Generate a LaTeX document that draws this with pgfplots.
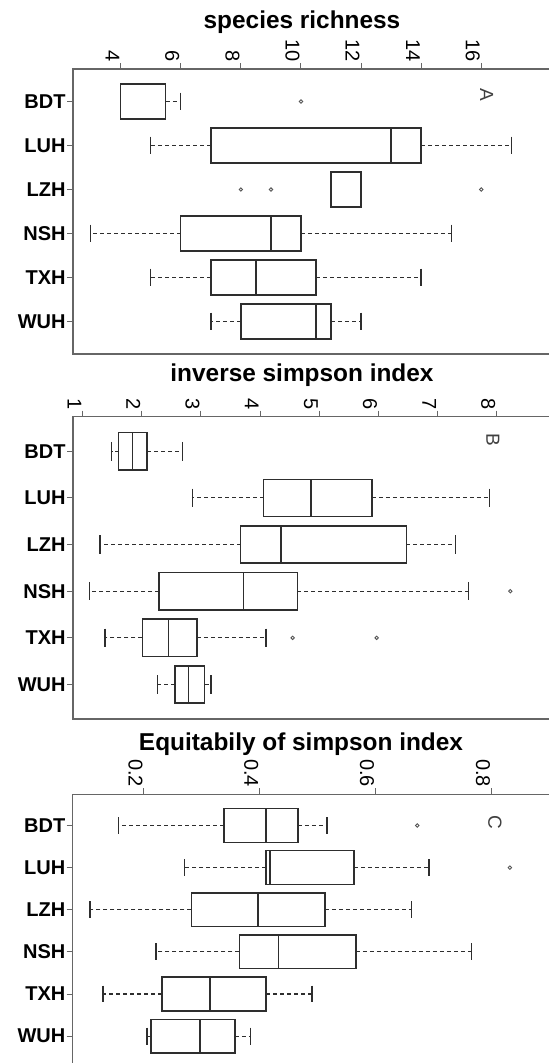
\documentclass[border=0pt]{standalone}
\usepackage{fontspec}
\setmainfont{Liberation Sans}
\usepackage{pgfplots}
\usepgfplotslibrary{statistics}
\usepackage{pgfplotstable}
\pgfplotsset{compat=1.18}
\newdimen\px \px=0.5pt
\definecolor{boxcol}{HTML}{2E2E2E}
\definecolor{axcol}{HTML}{666666}
\definecolor{outcol}{HTML}{555555}

\pgfplotstableread{
pos lw lq med uq uw
1 4 4 4 5.5 6
2 5 7 13 14 17
3 11 11 11 12 12
4 3 6 9 10 15
5 5 7 8.5 10.5 14
6 7 8 10.5 11 12
}\tblA
\pgfplotstableread{
pos lw lq med uq uw
1 1.49 1.61 1.84 2.09 2.69
2 2.86 4.06 4.86 5.89 7.88
3 1.29 3.67 4.35 6.47 7.30
4 1.12 2.29 3.72 4.63 7.52
5 1.38 2.01 2.45 2.93 4.10
6 2.26 2.56 2.79 3.06 3.17
}\tblB
\pgfplotstableread{
pos lw lq med uq uw
1 0.156 0.338 0.411 0.466 0.516
2 0.270 0.411 0.418 0.563 0.692
3 0.107 0.282 0.397 0.513 0.662
4 0.221 0.365 0.432 0.566 0.766
5 0.129 0.231 0.314 0.411 0.490
6 0.205 0.212 0.297 0.357 0.384
}\tblC

\pgfplotsset{
 bxaxis/.style={
  scale only axis, width=487\px,
  ymin=0.26, ymax=6.74, y dir=reverse,
  ytick={1,...,6}, yticklabels={BDT,LUH,LZH,NSH,TXH,WUH},
  yticklabel style={font=\fontsize{10}{12}\selectfont\bfseries, anchor=east, inner sep=1\px},
  ytick pos=left, xtick pos=right, xticklabel pos=right,
  tick align=outside, major tick length=6\px,
  tick style={axcol, line width=1\px},
  axis line style={axcol, line width=1.3\px},
  xticklabel style={font=\fontsize{10}{12}\selectfont, rotate=-90, anchor=north east, inner sep=1\px},
  /pgf/number format/assume math mode=true,
  boxplot/draw direction=x,
  boxplot/box extend=0.8,
  boxplot/whisker extend=0,
  boxplot/every whisker/.style={dash pattern=on 4\px off 3\px, line width=1.1\px},
  clip=false,
 },
 bxplot/.style={draw=boxcol, line width=1.4\px, solid},
 capA/.style={only marks, mark=|, mark size=8.8\px, mark options={boxcol, line width=1.4\px, solid}},
 outl/.style={only marks, mark=o, mark size=1.7\px, mark options={outcol, line width=0.9\px}},
}
\newcommand\bx[3]{%
 \pgfplotstablegetelem{#2}{lw}\of{#1}\edef\vlw{\pgfplotsretval}%
 \pgfplotstablegetelem{#2}{lq}\of{#1}\edef\vlq{\pgfplotsretval}%
 \pgfplotstablegetelem{#2}{med}\of{#1}\edef\vmed{\pgfplotsretval}%
 \pgfplotstablegetelem{#2}{uq}\of{#1}\edef\vuq{\pgfplotsretval}%
 \pgfplotstablegetelem{#2}{uw}\of{#1}\edef\vuw{\pgfplotsretval}%
 \edef\tmp{\noexpand\addplot[bxplot, boxplot prepared={draw position=#3,
   lower whisker=\vlw, lower quartile=\vlq, median=\vmed,
   upper quartile=\vuq, upper whisker=\vuw}] coordinates {};}%
 \tmp}

\begin{document}
\begin{tikzpicture}
% Panel A
\begin{axis}[bxaxis, at={(73\px,-69\px)}, anchor=north west, height=285\px,
  xmin=2.413, xmax=18.62, xtick={4,6,...,16}]
\bx{\tblA}{0}{1}\bx{\tblA}{1}{2}\bx{\tblA}{2}{3}\bx{\tblA}{3}{4}\bx{\tblA}{4}{5}\bx{\tblA}{5}{6}
\addplot[capA] table[x=lw,y=pos]{\tblA};
\addplot[capA] table[x=uw,y=pos]{\tblA};
\addplot[outl] coordinates {(10,1) (8,3) (9,3) (16,3)};
\end{axis}
% Panel B
\begin{axis}[bxaxis, at={(73\px,-416.7\px)}, anchor=north west, height=302.3\px,
  xmin=0.836, xmax=9.07, xtick={1,...,8}]
\bx{\tblB}{0}{1}\bx{\tblB}{1}{2}\bx{\tblB}{2}{3}\bx{\tblB}{3}{4}\bx{\tblB}{4}{5}\bx{\tblB}{5}{6}
\addplot[capA, mark size=9.3\px] table[x=lw,y=pos]{\tblB};
\addplot[capA, mark size=9.3\px] table[x=uw,y=pos]{\tblB};
\addplot[outl] coordinates {(8.23,4) (4.55,5) (5.97,5)};
\end{axis}
% Panel C
\begin{axis}[bxaxis, at={(72.7\px,-794.3\px)}, anchor=north west, height=273\px,
  xmin=0.077, xmax=0.918, xtick={0.2,0.4,0.6,0.8},
  xticklabel style={/pgf/number format/fixed, /pgf/number format/precision=1}]
\bx{\tblC}{0}{1}\bx{\tblC}{1}{2}\bx{\tblC}{2}{3}\bx{\tblC}{3}{4}\bx{\tblC}{4}{5}\bx{\tblC}{5}{6}
\addplot[capA, mark size=8.4\px] table[x=lw,y=pos]{\tblC};
\addplot[capA, mark size=8.4\px] table[x=uw,y=pos]{\tblC};
\addplot[outl] coordinates {(0.672,1) (0.832,2)};
\end{axis}
% titles
\node[anchor=base, font=\fontsize{12.2}{14}\selectfont\bfseries] at (302\px,-28.3\px) {species richness};
\node[anchor=base, font=\fontsize{12.2}{14}\selectfont\bfseries] at (302\px,-381.7\px) {inverse simpson index};
\node[anchor=base, font=\fontsize{12.2}{14}\selectfont\bfseries] at (301\px,-750.7\px) {Equitabily of simpson index};
% panel letters
\node[rotate=-90, font=\fontsize{9.5}{11}\selectfont, text=black!75] at (486.7\px,-95\px) {A};
\node[rotate=-90, font=\fontsize{9.5}{11}\selectfont, text=black!75] at (493\px,-440\px) {B};
\node[rotate=-90, font=\fontsize{9.5}{11}\selectfont, text=black!75] at (495\px,-822.7\px) {C};
\pgfresetboundingbox
\path[use as bounding box] (0,0) rectangle (548\px,-1063\px);
\end{tikzpicture}
\end{document}
